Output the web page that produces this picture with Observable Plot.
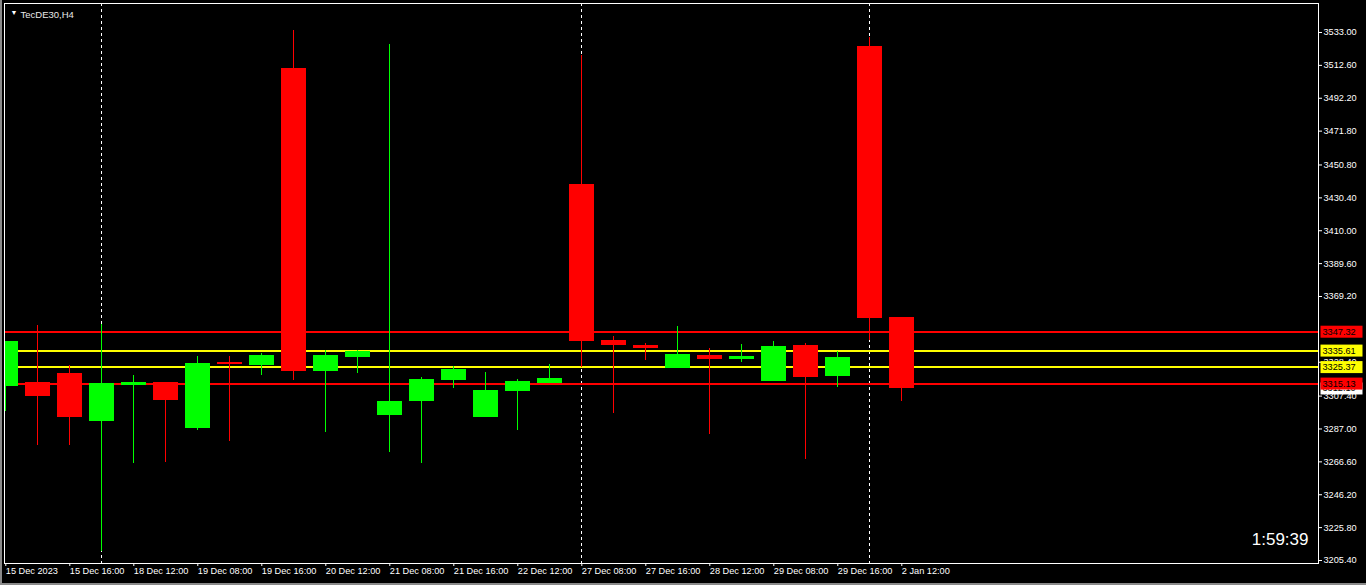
<!DOCTYPE html>
<html><head><meta charset="utf-8">
<script src="https://cdn.jsdelivr.net/npm/d3@7"></script>
<script src="https://cdn.jsdelivr.net/npm/@observablehq/plot@0.6"></script>
<style>
html,body{margin:0;padding:0;background:#000;}
#wrap{position:relative;width:1366px;height:585px;overflow:hidden;background:#000;}
#wrap svg{display:block;}
#edge{position:absolute;left:0;top:0;width:1366px;height:585px;box-sizing:border-box;border-left:2px solid #8a8a8a;border-bottom:2px solid #8a8a8a;pointer-events:none;}
</style></head><body><div id="wrap"><div id="edge"></div></div>
<script>
const symbol = "TecDE30,H4";
const countdown = "1:59:39";

const candleTimes = ["15 Dec 08:00","15 Dec 12:00","15 Dec 16:00","18 Dec 08:00","18 Dec 12:00","18 Dec 16:00",
  "19 Dec 08:00","19 Dec 12:00","19 Dec 16:00","20 Dec 08:00","20 Dec 12:00","20 Dec 16:00",
  "21 Dec 08:00","21 Dec 12:00","21 Dec 16:00","22 Dec 08:00","22 Dec 12:00","22 Dec 16:00",
  "27 Dec 08:00","27 Dec 12:00","27 Dec 16:00","28 Dec 08:00","28 Dec 12:00","28 Dec 16:00",
  "29 Dec 08:00","29 Dec 12:00","29 Dec 16:00","2 Jan 08:00","2 Jan 12:00"];

const open  = [3313.4,3315.6,3321.4,3291.6,3313.9,3315.6,3287.3,3328.2,3326.4,3510.7,3322.7,3331.3,3295.4,3304.1,3317.1,3294.1,3310.3,3315.2,3438.7,3341.9,3338.8,3324.5,3332.6,3330.1,3316.5,3338.8,3319.6,3524.3,3356.2];
const high  = [3341.5,3351.2,3326.4,3351.8,3320.2,3315.6,3332.0,3332.0,3333.8,3534.2,3335.7,3335.7,3525.6,3318.9,3325.8,3322.0,3317.7,3327.0,3518.7,3344.4,3340.0,3350.6,3336.9,3339.4,3341.3,3340.0,3335.1,3529.9,3356.2];
const low   = [3297.8,3276.9,3276.9,3211.2,3265.6,3266.2,3286.1,3279.4,3320.2,3317.1,3284.8,3321.4,3272.4,3265.6,3312.1,3294.1,3286.1,3315.2,3325.1,3296.8,3329.5,3324.5,3283.6,3328.2,3316.5,3268.1,3312.7,3341.9,3304.0];
const close = [3341.3,3307.2,3294.1,3315.2,3315.6,3304.7,3327.6,3327.0,3332.6,3322.7,3332.6,3335.1,3304.1,3317.7,3323.9,3310.9,3316.5,3318.3,3341.3,3338.8,3336.9,3333.2,3330.1,3332.0,3338.2,3318.9,3331.3,3355.5,3312.1];

const tickLabels = ["15 Dec 2023","15 Dec 16:00","18 Dec 12:00","19 Dec 08:00","19 Dec 16:00","20 Dec 12:00",
  "21 Dec 08:00","21 Dec 16:00","22 Dec 12:00","27 Dec 08:00","27 Dec 16:00","28 Dec 12:00",
  "29 Dec 08:00","29 Dec 16:00","2 Jan 12:00"];
const separatorTimes = ["18 Dec 08:00","27 Dec 08:00","2 Jan 08:00"];

const levels = [3347.32, 3335.61, 3325.37, 3315.13];
const levelColors = ["#ff0000","#ffff00","#ffff00","#ff0000"];
const bid = 3312.10;

const yTicks = [3533.00,3512.60,3492.20,3471.80,3450.80,3430.40,3410.00,3389.60,3369.20,3328.40,3307.40,3287.00,3266.60,3246.20,3225.80,3205.40];

const bull = "#00ff00", bear = "#ff0000";
const candles = candleTimes.map((t, i) => ({i, t, o: open[i], h: high[i], l: low[i], c: close[i], col: close[i] >= open[i] ? bull : bear}));
const sepIdx = separatorTimes.map(t => candleTimes.indexOf(t));
const tickIdx = tickLabels.map((_, k) => 2 * k);
const levelData = levels.map((v, k) => ({v, col: levelColors[k]}));
const priceLabels = [{v: bid, col: "#ffffff"}, ...levelData];
const labelColor = new Map(priceLabels.map(d => [d.v.toFixed(2), d.col]));
const half = 0.39;

const font = "'Liberation Sans', Arial, sans-serif";

const chart = Plot.plot({
  width: 1366,
  height: 585,
  marginTop: 3,
  marginBottom: 22,
  marginLeft: 4,
  marginRight: 48,
  style: {background: "#000", color: "#fff", fontFamily: font, fontSize: "9.2px"},
  x: {domain: [-0.040625, 41.021875]},
  y: {domain: [3203.54, 3550.99]},
  color: {type: "identity"},
  marks: [
    Plot.ruleX(sepIdx, {x: d => d, stroke: "#ffffff", strokeDasharray: "3,3", shapeRendering: "crispEdges"}),
    Plot.ruleY(levelData, {y: "v", stroke: "col", strokeWidth: 2, shapeRendering: "crispEdges"}),
    Plot.ruleX(candles, {x: "i", y1: "l", y2: "h", stroke: "col", strokeWidth: 1, clip: true, shapeRendering: "crispEdges"}),
    Plot.rect(candles, {x1: d => d.i - half, x2: d => d.i + half, y1: "o", y2: "c", fill: "col", clip: true, shapeRendering: "crispEdges"}),
    Plot.frame({stroke: "#ffffff", shapeRendering: "crispEdges"}),
    Plot.axisX({ticks: tickIdx, tickFormat: i => tickLabels[i / 2], anchor: "bottom", tickSize: 3, tickPadding: 1,
      textAnchor: "start", dx: 0, fill: "#ffffff", stroke: "#ffffff", fontSize: 9.2, label: null}),
    Plot.axisY({ticks: yTicks, tickFormat: d => d.toFixed(2), anchor: "right", tickSize: 3, tickPadding: 2,
      fill: "#ffffff", stroke: "#ffffff", fontSize: 9.2, label: null}),
    Plot.text(priceLabels, {y: "v", text: d => d.v.toFixed(2), frameAnchor: "right", textAnchor: "start", dx: 4,
      fill: "#000000", fontSize: 9.2}),
    Plot.text(["▼"], {text: d => d, frameAnchor: "top-left", dx: 6, dy: 7, fontSize: 7, fill: "#ffffff", textAnchor: "start"}),
    Plot.text([symbol], {text: d => d, frameAnchor: "top-left", dx: 16, dy: 7.5, fontSize: 9.5, fill: "#e8e8e8", textAnchor: "start"}),
    Plot.text([countdown], {text: d => d, frameAnchor: "bottom-right", dx: -10, dy: -19, fontSize: 17, fill: "#ffffff", textAnchor: "end"})
  ]
});

const wrap = document.getElementById("wrap");
wrap.insertBefore(chart, wrap.firstChild);

// draw coloured boxes behind the price-level labels (same transform as the text)
Array.from(chart.querySelectorAll("text")).forEach(function(node) {
  const s = node.textContent.trim();
  if (!labelColor.has(s)) return;
  const bb = node.getBBox();
  const cy = bb.y + bb.height / 2;
  const rect = document.createElementNS("http://www.w3.org/2000/svg", "rect");
  const tr = node.getAttribute("transform");
  if (tr) rect.setAttribute("transform", tr);
  rect.setAttribute("x", bb.x - 2);
  rect.setAttribute("y", cy - 6);
  rect.setAttribute("width", Math.max(42, bb.width + 6));
  rect.setAttribute("height", 12);
  rect.setAttribute("fill", labelColor.get(s));
  node.parentNode.insertBefore(rect, node);
});
</script>
</body></html>
